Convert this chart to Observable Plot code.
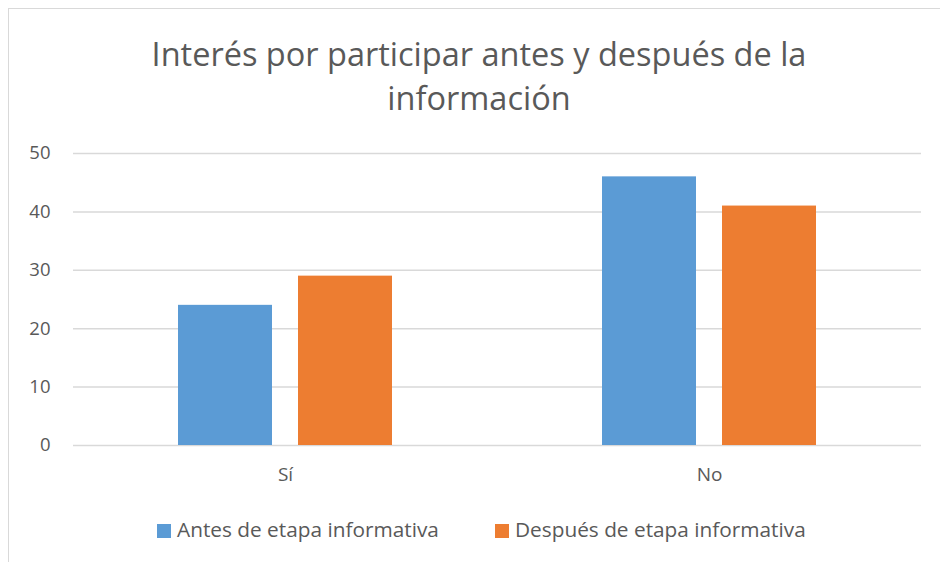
<!DOCTYPE html>
<html>
<head>
<meta charset="utf-8">
<script src="https://cdn.jsdelivr.net/npm/d3@7"></script>
<script src="https://cdn.jsdelivr.net/npm/@observablehq/plot@0.6"></script>
<style>
  html, body { margin: 0; padding: 0; background: #fff; }
  #wrap { position: relative; width: 940px; height: 562px; overflow: hidden; font-family: "Open Sans", Lato, sans-serif; color: #595959; }
  #frame { position: absolute; left: 8px; top: 8px; width: 1000px; height: 600px; border-left: 1.5px solid #d9d9d9; border-top: 1.5px solid #d9d9d9; }
  #title { position: absolute; left: 0; width: 958px; top: 32px; text-align: center; font-size: 32.5px; line-height: 44px; }
  #chart { position: absolute; left: 0; top: 130px; }
  #legend { position: absolute; top: 514px; left: 0; width: 940px; font-size: 20.8px; line-height: 30px; }
  .item { position: absolute; top: 0; white-space: nowrap; }
  .sw { display: inline-block; width: 14px; height: 14px; margin-right: 6px; vertical-align: -1px; }
</style>
</head>
<body>
<div id="wrap">
  <div id="frame"></div>
  <div id="title">Interés por participar antes y después de la<br>información</div>
  <div id="chart"></div>
  <div id="legend"></div>
</div>
<script>
const categories = ["Sí", "No"];
const seriesNames = ["Antes de etapa informativa", "Después de etapa informativa"];
const antes = [24, 46];
const despues = [29, 41];
const yTicks = [0, 10, 20, 30, 40, 50];
const colors = ["#5B9BD5", "#ED7D31"];

const rows = [];
categories.forEach((c, i) => {
  rows.push({cat: c, serie: seriesNames[0], value: antes[i]});
  rows.push({cat: c, serie: seriesNames[1], value: despues[i]});
});

const chart = Plot.plot({
  width: 940,
  height: 360,
  marginTop: 23,
  marginBottom: 45,
  marginLeft: 73,
  marginRight: 19,
  style: {fontFamily: "'Open Sans', Lato, sans-serif", color: "#595959", background: "transparent"},
  fx: {domain: categories, padding: 0, label: null},
  x: {domain: seriesNames, paddingInner: 0.215, paddingOuter: 0.86, axis: null},
  y: {domain: [0, 50], ticks: yTicks, label: null},
  color: {domain: seriesNames, range: colors},
  marks: [
    Plot.ruleY(yTicks, {stroke: "#d9d9d9", strokeWidth: 1.5}),
    Plot.barY(rows, {fx: "cat", x: "serie", y: "value", fill: "serie"}),
    Plot.axisY({ticks: yTicks, tickSize: 0, tickPadding: 23, fontSize: 18.5, label: null}),
    Plot.axisFx({anchor: "bottom", tickSize: 0, tickPadding: 22, fontSize: 19, label: null})
  ]
});
document.getElementById("chart").appendChild(chart);

const legend = document.getElementById("legend");
const positions = [157, 495];
seriesNames.forEach((s, i) => {
  const d = document.createElement("div");
  d.className = "item";
  d.style.left = positions[i] + "px";
  d.innerHTML = `<span class="sw" style="background:${colors[i]}"></span>${s}`;
  legend.appendChild(d);
});
</script>
</body>
</html>
